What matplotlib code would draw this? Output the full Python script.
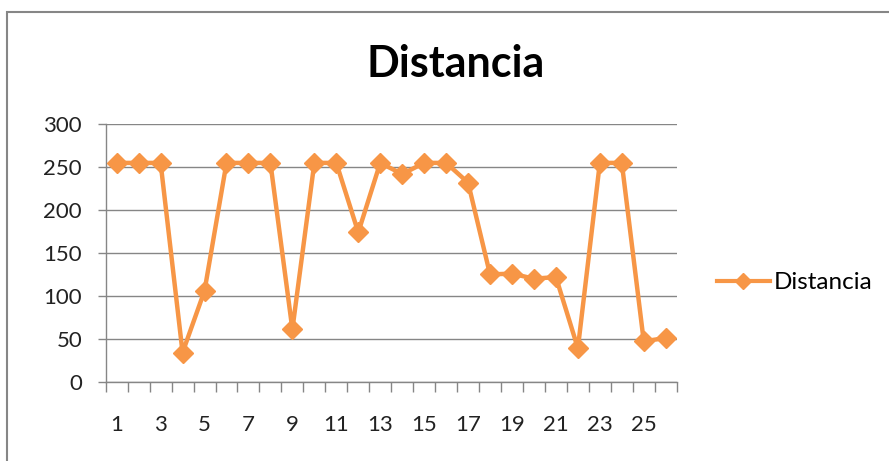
import matplotlib.pyplot as plt
from matplotlib.patches import Rectangle
import numpy as np

# readings per sample
muestras = list(range(1, 27))
distancia = [255, 255, 255, 34, 106, 255, 255, 255, 61, 255,
             255, 174, 255, 242, 255, 255, 232, 125, 126, 120,
             122, 39, 255, 255, 47, 51]

naranja = '#F79646'
gris = '#868686'

plt.rcParams['font.family'] = ['Lato', 'DejaVu Sans']

fig = plt.figure(figsize=(8.89, 4.61), dpi=100)
ax = fig.add_axes([0.1189, 0.172, 0.6423, 0.5584])

# outer chart frame, cut by the image edges on the right and bottom
fig.patches.append(Rectangle((7 / 889, -0.1), 1.2, 1 - 12 / 461 + 0.1,
                             transform=fig.transFigure, fill=False,
                             edgecolor=gris, linewidth=1.5))

pos = np.arange(len(muestras))
ax.plot(pos, distancia, color=naranja, linewidth=3.2, marker='D',
        markersize=10, markeredgecolor=naranja, label='Distancia', zorder=3)

ax.set_xlim(-0.5, len(muestras) - 0.5)
ax.set_ylim(0, 300)
ax.set_yticks(np.arange(0, 301, 50))
ax.yaxis.grid(True, color=gris, linewidth=1.0)
ax.set_axisbelow(True)

# category ticks on the boundaries, labels on every other point
ax.set_xticks(np.arange(-0.5, len(muestras)), minor=False)
ax.set_xticklabels([])
ax.set_xticks(pos[::2], minor=True)
ax.set_xticklabels([str(m) for m in muestras[::2]], minor=True)
ax.tick_params(axis='x', which='major', length=7.2, color=gris, width=1)
ax.tick_params(axis='x', which='minor', length=0, pad=24, labelsize=16,
               labelcolor='#222222')
ax.tick_params(axis='y', length=6, color=gris, width=1, pad=11,
               labelsize=16, labelcolor='#222222')

for lado in ['top', 'right']:
    ax.spines[lado].set_visible(False)
for lado in ['left', 'bottom']:
    ax.spines[lado].set_color(gris)
    ax.spines[lado].set_linewidth(1.0)

fig.text(0.512, 1 - 77 / 461, 'Distancia', ha='center', va='baseline',
         fontsize=31, fontweight='bold', color='black')

leg = ax.legend(loc='center left', bbox_to_anchor=(1.07, 0.385),
                frameon=False, fontsize=17.5, handlelength=2.2,
                handletextpad=0.15, borderpad=0, borderaxespad=0)
for h in leg.legend_handles:
    h.set_linewidth(3)
    h.set_markersize(8)

fig.savefig('out.png', dpi=100)
